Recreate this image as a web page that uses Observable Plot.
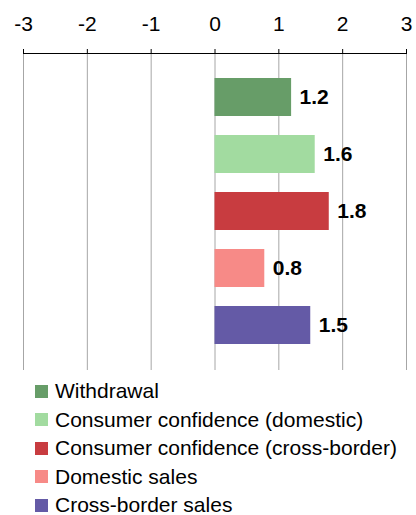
<!DOCTYPE html>
<html>
<head>
<meta charset="utf-8">
<script src="https://cdn.jsdelivr.net/npm/d3@7"></script>
<script src="https://cdn.jsdelivr.net/npm/@observablehq/plot@0.6"></script>
<style>
  body { margin: 0; background: #fff; font-family: "Liberation Sans", Arial, sans-serif; }
  #legend { padding: 5px 0 0 35px; }
  .row { display: flex; align-items: center; height: 28.5px; font-size: 21px; color: #000; }
  .sw { width: 13px; height: 13px; margin-right: 7px; flex: none; }
</style>
</head>
<body>
<div id="chart"></div>
<div id="legend"></div>
<script>
const categories = ["Withdrawal", "Consumer confidence (domestic)", "Consumer confidence (cross-border)", "Domestic sales", "Cross-border sales"];
const values = [1.2, 1.57, 1.79, 0.78, 1.5];
const colors = ["#679d68", "#a2dba0", "#c83c40", "#f78a87", "#645aa6"];
const xTicks = [-3, -2, -1, 0, 1, 2, 3];

const data = categories.map((c, i) => ({category: c, value: values[i]}));
const fmt = d3.format(".1f");

const plot = Plot.plot({
  width: 416,
  height: 372,
  marginTop: 53,
  marginBottom: 2,
  marginLeft: 23,
  marginRight: 10,
  style: {fontFamily: "Liberation Sans, Arial, sans-serif", fontSize: "21px", color: "#000", background: "#fff"},
  x: {domain: [-3, 3], axis: null},
  y: {domain: categories, axis: null, paddingInner: 0.33, paddingOuter: 0.4},
  color: {domain: categories, range: colors},
  marks: [
    Plot.gridX(xTicks, {stroke: "#a6a6a6", strokeOpacity: 1}),
    Plot.axisX(xTicks, {anchor: "top", label: null, tickSize: 5, tickPadding: 18, tickFormat: d => String(d).replace("−", "-"), fontSize: 21, stroke: "#000", strokeWidth: 1}),
    Plot.frame({anchor: "top", stroke: "#000"}),
    Plot.barX(data, {x1: 0, x2: "value", y: "category", fill: "category"}),
    Plot.text(data, {x: "value", y: "category", text: d => fmt(d.value), dx: 8, textAnchor: "start", fontWeight: "bold", fontSize: 21, fill: "#000"})
  ]
});
document.getElementById("chart").appendChild(plot);

const legend = document.getElementById("legend");
categories.forEach((c, i) => {
  const row = document.createElement("div");
  row.className = "row";
  const sw = document.createElement("span");
  sw.className = "sw";
  sw.style.background = colors[i];
  const label = document.createElement("span");
  label.textContent = c;
  row.appendChild(sw);
  row.appendChild(label);
  legend.appendChild(row);
});
</script>
</body>
</html>
